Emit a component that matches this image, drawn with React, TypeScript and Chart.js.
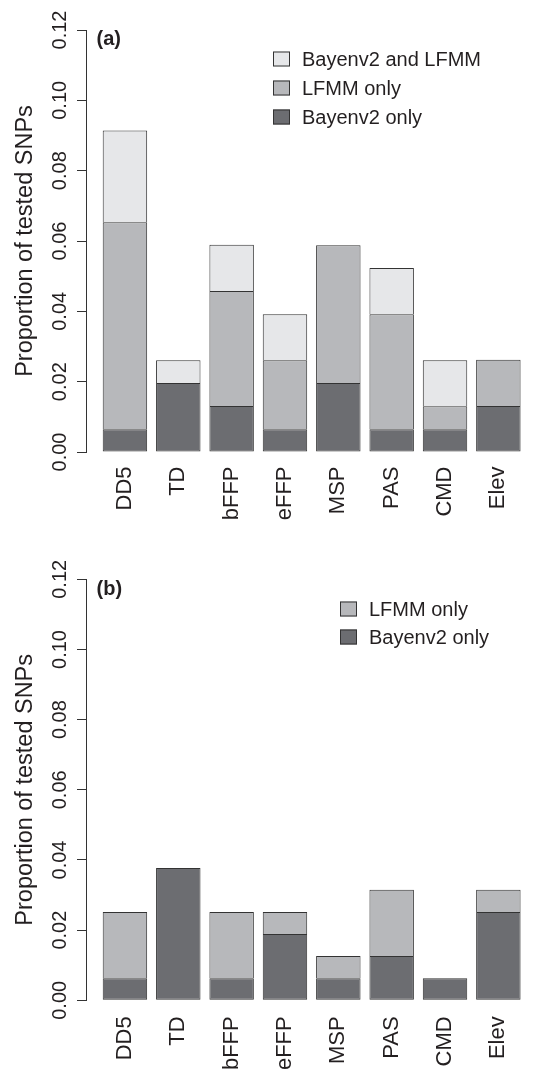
import React, { useEffect, useRef } from "react";
import { Chart, registerables } from "chart.js";

Chart.register(...registerables);

// ---------- data ----------
const CATEGORIES = ["DD5", "TD", "bFFP", "eFFP", "MSP", "PAS", "CMD", "Elev"];
const Y_TICKS = [0, 0.02, 0.04, 0.06, 0.08, 0.1, 0.12];
const Y_TICK_LABELS = ["0.00", "0.02", "0.04", "0.06", "0.08", "0.10", "0.12"];
const SERIES_NAMES = ["Bayenv2 only", "LFMM only", "Bayenv2 and LFMM"];
const Y_TITLE = "Proportion of tested SNPs";
const PANEL_LABELS = ["(a)", "(b)"];

// panel (a)
const A_BAYENV_ONLY = [0.0065, 0.0196, 0.0131, 0.0065, 0.0196, 0.0065, 0.0065, 0.0131];
const A_LFMM_ONLY = [0.0588, 0, 0.0327, 0.0196, 0.0392, 0.0327, 0.0065, 0.0131];
const A_BOTH = [0.0261, 0.0065, 0.0131, 0.0131, 0, 0.0131, 0.0131, 0];

// panel (b)
const B_BAYENV_ONLY = [0.0063, 0.0377, 0.0063, 0.0189, 0.0063, 0.0126, 0.0063, 0.0252];
const B_LFMM_ONLY = [0.0189, 0, 0.0189, 0.0063, 0.0063, 0.0189, 0, 0.0063];

// ---------- style ----------
const FONT = '"Liberation Sans", Arial, Helvetica, sans-serif';
const TEXT = "#231f20";
const AXIS = "#333333";
const COLORS = ["#6c6d71", "#b7b8bb", "#e6e7e9"];
const EDGE = "#333333";

type Panel = {
  label: string;
  series: number[][];
  names: string[];
  top: number;
  height: number;
  padTop: number;
  xHeight: number;
  xPad: number;
  labelY: number;
  legendX: number;
  legendY: number;
  legendStep: number;
};

const PANELS: Panel[] = [
  {
    label: PANEL_LABELS[0],
    series: [A_BAYENV_ONLY, A_LFMM_ONLY, A_BOTH],
    names: SERIES_NAMES,
    top: 0,
    height: 535,
    padTop: 30,
    xHeight: 83,
    xPad: 14.5,
    labelY: 39,
    legendX: 273,
    legendY: 59,
    legendStep: 29,
  },
  {
    label: PANEL_LABELS[1],
    series: [B_BAYENV_ONLY, B_LFMM_ONLY],
    names: SERIES_NAMES.slice(0, 2),
    top: 535,
    height: 536,
    padTop: 44.3,
    xHeight: 70.7,
    xPad: 16,
    labelY: 54.3,
    legendX: 340,
    legendY: 74,
    legendStep: 28,
  },
];

function makeOverlay(panel: Panel) {
  return {
    id: "overlay",
    afterDraw(chart: any) {
      const ctx = chart.ctx as CanvasRenderingContext2D;
      const ys = chart.scales.y;
      const area = chart.chartArea;
      ctx.save();
      ctx.fillStyle = TEXT;
      ctx.font = `20px ${FONT}`;
      ctx.textAlign = "center";
      ctx.textBaseline = "middle";
      ys.ticks.forEach((t: any, i: number) => {
        const py = ys.getPixelForValue(t.value);
        ctx.save();
        ctx.translate(area.left - 26, py);
        ctx.rotate(-Math.PI / 2);
        ctx.fillText(Y_TICK_LABELS[i], 0, 0);
        ctx.restore();
      });

      // panel label
      ctx.font = `bold 20px ${FONT}`;
      ctx.textAlign = "left";
      ctx.fillText(panel.label, area.left + 10.5, panel.labelY);

      // legend (reverse order, top = last series)
      ctx.font = `20px ${FONT}`;
      const ds = chart.data.datasets.slice().reverse();
      ds.forEach((d: any, i: number) => {
        const cy = panel.legendY + i * panel.legendStep;
        ctx.fillStyle = d.backgroundColor;
        ctx.fillRect(panel.legendX, cy - 7.5, 17, 15);
        ctx.strokeStyle = EDGE;
        ctx.lineWidth = 1;
        ctx.strokeRect(panel.legendX + 0.5, cy - 7, 16, 14);
        ctx.fillStyle = TEXT;
        ctx.fillText(d.label, panel.legendX + 29, cy + 1);
      });
      ctx.restore();
    },
  };
}

function PanelChart({ panel }: { panel: Panel }) {
  const ref = useRef<HTMLCanvasElement | null>(null);

  useEffect(() => {
    if (!ref.current) return;
    const datasets = panel.series.map((vals, si) => ({
      label: panel.names[si],
      data: vals.map((v, i) => ({ x: i + 1, y: v })),
      backgroundColor: COLORS[si],
      borderColor: EDGE,
      borderWidth: 1,
      borderSkipped: si === 0 ? (false as const) : ("start" as const),
      stack: "s",
      categoryPercentage: 1,
      barPercentage: 1 / 1.2,
    }));

    const chart = new Chart(ref.current, {
      type: "bar",
      data: { datasets },
      options: {
        animation: false,
        responsive: false,
        events: [],
        layout: { autoPadding: false, padding: { top: panel.padTop, left: 0, right: 7.7, bottom: 0 } },
        plugins: {
          legend: { display: false },
          tooltip: { enabled: false },
        },
        scales: {
          x: {
            type: "linear",
            offset: false,
            min: 0.27,
            max: 8.73,
            afterBuildTicks: (scale: any) => {
              scale.ticks = CATEGORIES.map((_, i) => ({ value: i + 1 }));
            },
            afterFit: (scale: any) => {
              scale.height = panel.xHeight;
            },
            grid: { display: false, drawTicks: false, offset: false },
            border: { display: false },
            ticks: {
              autoSkip: false,
              minRotation: 90,
              maxRotation: 90,
              padding: panel.xPad,
              color: TEXT,
              font: { family: FONT, size: 22 },
              callback: (v: any) => CATEGORIES[Math.round(Number(v)) - 1] ?? "",
            },
          },
          y: {
            type: "linear",
            stacked: true,
            min: 0,
            max: 0.12,
            afterBuildTicks: (scale: any) => {
              scale.ticks = Y_TICKS.map((v) => ({ value: v }));
            },
            afterFit: (scale: any) => {
              scale.width = 86;
            },
            grid: {
              display: true,
              drawOnChartArea: false,
              drawTicks: true,
              tickLength: 9,
              color: AXIS,
              lineWidth: 1,
            },
            border: { display: true, color: AXIS, width: 1 },
            ticks: { display: false },
            title: {
              display: true,
              text: Y_TITLE,
              color: TEXT,
              font: { family: FONT, size: 23.5 },
              padding: { top: 11, bottom: 0 },
            },
          },
        },
      },
      plugins: [makeOverlay(panel)],
    } as any);

    return () => chart.destroy();
  }, [panel]);

  return (
    <div style={{ position: "absolute", left: 0, top: panel.top, width: 545, height: panel.height }}>
      <canvas ref={ref} width={545} height={panel.height} style={{ display: "block" }} />
    </div>
  );
}

export default function App() {
  return (
    <div style={{ position: "absolute", left: 0, top: 0, width: 545, height: 1071, background: "#fff", overflow: "hidden" }}>
      {PANELS.map((p) => (
        <PanelChart key={p.label} panel={p} />
      ))}
    </div>
  );
}
